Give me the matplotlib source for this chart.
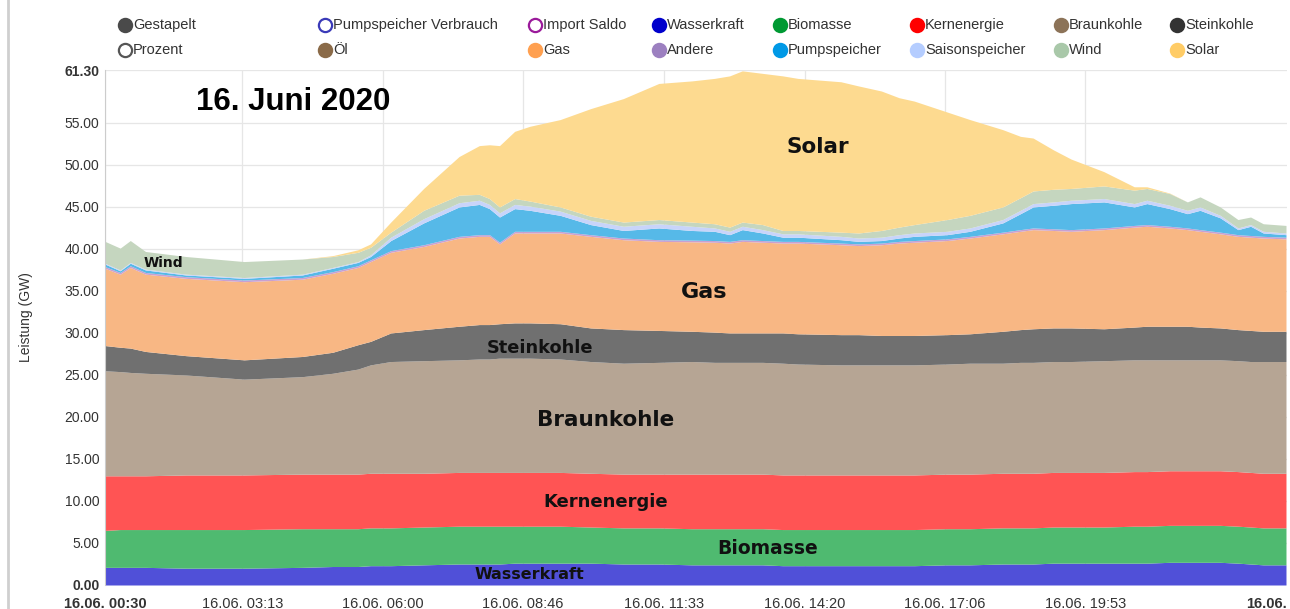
import numpy as np
import matplotlib.pyplot as plt
from matplotlib.lines import Line2D

# hours of the day (16.06.2020)
hours = [0.5, 0.8, 1.0, 1.3, 2.1, 3.25, 4.4, 5.0, 5.5, 5.75, 6.15, 6.8, 7.5, 7.9, 8.1, 8.3,
         8.6, 8.9, 9.5, 10.1, 10.75, 11.45, 12.1, 12.55, 12.85, 13.1, 13.5, 13.9, 14.2, 15.05,
         15.4, 15.85, 16.2, 16.5, 17.15, 17.6, 18.25, 18.6, 18.85, 19.25, 19.6, 20.25, 20.85,
         21.1, 21.55, 21.9, 22.15, 22.55, 22.9, 23.15, 23.4, 23.85]

# generation per source in GW (stack order bottom -> top)
wasserkraft = [2.1, 2.1, 2.1, 2.1, 2.0, 2.0, 2.1, 2.2, 2.2, 2.3, 2.3, 2.4, 2.5, 2.5, 2.5, 2.5,
               2.6, 2.6, 2.6, 2.6, 2.5, 2.5, 2.4, 2.4, 2.4, 2.4, 2.4, 2.3, 2.3, 2.3,
               2.3, 2.3, 2.3, 2.3, 2.4, 2.4, 2.5, 2.5, 2.5, 2.6, 2.6, 2.6, 2.6,
               2.6, 2.7, 2.7, 2.7, 2.7, 2.6, 2.5, 2.4, 2.4]
biomasse = [4.4, 4.5, 4.5, 4.5, 4.6, 4.6, 4.6, 4.5, 4.5, 4.5, 4.5, 4.5, 4.5, 4.5, 4.5, 4.5,
            4.4, 4.4, 4.4, 4.3, 4.3, 4.3, 4.3, 4.3, 4.3, 4.3, 4.3, 4.3, 4.3, 4.3,
            4.3, 4.3, 4.3, 4.3, 4.3, 4.3, 4.3, 4.3, 4.3, 4.3, 4.3, 4.3, 4.4,
            4.4, 4.4, 4.4, 4.4, 4.4, 4.4, 4.4, 4.4, 4.4]
kernenergie = [6.5, 6.4, 6.4, 6.4, 6.5, 6.5, 6.5, 6.5, 6.5, 6.5, 6.5, 6.4, 6.4, 6.4, 6.4, 6.4,
               6.4, 6.4, 6.4, 6.4, 6.4, 6.4, 6.5, 6.5, 6.5, 6.5, 6.5, 6.5, 6.5, 6.5,
               6.5, 6.5, 6.5, 6.5, 6.5, 6.5, 6.5, 6.5, 6.5, 6.5, 6.5, 6.5, 6.5,
               6.5, 6.5, 6.5, 6.5, 6.5, 6.5, 6.5, 6.5, 6.5]
braunkohle = [12.5, 12.4, 12.3, 12.2, 11.9, 11.4, 11.6, 12.0, 12.5, 12.9, 13.3, 13.4, 13.4, 13.5, 13.5, 13.6,
              13.6, 13.6, 13.5, 13.3, 13.2, 13.3, 13.4, 13.3, 13.3, 13.3, 13.3, 13.3, 13.2, 13.1,
              13.1, 13.1, 13.1, 13.1, 13.1, 13.2, 13.1, 13.2, 13.2, 13.2, 13.2, 13.3, 13.3,
              13.3, 13.2, 13.2, 13.2, 13.2, 13.2, 13.2, 13.3, 13.3]
steinkohle = [3.0, 2.9, 2.9, 2.6, 2.3, 2.3, 2.4, 2.5, 2.9, 2.8, 3.4, 3.7, 4.0, 4.1, 4.1, 4.1,
              4.2, 4.2, 4.2, 4.0, 4.0, 3.8, 3.6, 3.6, 3.5, 3.5, 3.5, 3.6, 3.6, 3.6,
              3.6, 3.5, 3.5, 3.5, 3.5, 3.5, 3.8, 3.9, 4.0, 4.0, 4.0, 3.8, 3.9,
              4.0, 4.0, 4.0, 3.9, 3.8, 3.7, 3.7, 3.6, 3.6]
gas = [9.2, 8.7, 9.6, 9.2, 9.2, 9.3, 9.2, 9.4, 9.2, 9.5, 9.6, 9.9, 10.5, 10.5, 10.5, 9.5,
       10.7, 10.7, 10.8, 10.9, 10.7, 10.6, 10.65, 10.7, 10.7, 10.9, 10.8, 10.7, 10.8, 10.7,
       10.6, 10.8, 11.0, 11.1, 11.2, 11.4, 11.6, 11.7, 11.8, 11.6, 11.5, 11.8, 11.9,
       11.9, 11.7, 11.5, 11.4, 11.2, 11.1, 11.1, 11.1, 11.0]
andere = [0.2] * 52
pumpspeicher = [0.3, 0.2, 0.3, 0.3, 0.2, 0.2, 0.3, 0.4, 0.4, 0.4, 1.2, 2.6, 3.5, 3.6, 3.1, 3.0,
                2.7, 2.5, 1.9, 1.2, 0.9, 1.4, 1.15, 1.1, 0.8, 1.2, 0.9, 0.5, 0.5, 0.4,
                0.3, 0.3, 0.4, 0.5, 0.5, 0.6, 1.1, 1.9, 2.5, 2.8, 3.1, 3.1, 2.2,
                2.5, 2.1, 1.7, 2.3, 1.7, 0.6, 1.1, 0.4, 0.3]
saisonspeicher = [0.1, 0.1, 0.1, 0.1, 0.1, 0.1, 0.1, 0.1, 0.1, 0.2, 0.4, 0.5, 0.5, 0.5, 0.5, 0.5,
                  0.5, 0.5, 0.5, 0.5, 0.5, 0.5, 0.5, 0.4, 0.4, 0.4, 0.4, 0.4, 0.4, 0.4,
                  0.4, 0.4, 0.4, 0.4, 0.4, 0.4, 0.4, 0.4, 0.4, 0.4, 0.4, 0.4, 0.4,
                  0.4, 0.4, 0.4, 0.4, 0.3, 0.2, 0.2, 0.2, 0.2]
wind = [2.6, 2.6, 2.6, 2.1, 2.1, 1.9, 1.8, 1.3, 1.1, 0.9, 0.6, 1.0, 0.9, 0.7, 0.7, 0.7,
        0.7, 0.6, 0.5, 0.5, 0.5, 0.5, 0.5, 0.5, 0.5, 0.5, 0.6, 0.4, 0.4, 0.5,
        0.6, 0.8, 0.9, 1.0, 1.4, 1.5, 1.5, 1.5, 1.5, 1.5, 1.4, 1.5, 1.6,
        1.4, 1.4, 1.0, 1.2, 1.0, 1.0, 0.9, 0.9, 0.9]
solar = [0, 0, 0, 0, 0, 0, 0, 0.1, 0.3, 0.4, 1.2, 2.6, 4.6, 5.8, 6.4, 7.3,
         8.0, 8.9, 10.4, 12.8, 14.7, 16.2, 16.8, 17.3, 18.0, 18.0, 18.0, 18.4, 18.1, 17.9,
         17.5, 16.6, 15.4, 14.7, 12.8, 11.4, 9.2, 7.3, 6.3, 4.7, 3.5, 1.7, 0.4,
         0.2, 0.05, 0, 0, 0, 0, 0, 0, 0]

layers = [wasserkraft, biomasse, kernenergie, braunkohle, steinkohle, gas, andere,
          pumpspeicher, saisonspeicher, wind, solar]
fill_colors = ['#5050d8', '#4fba70', '#ff5454', '#b6a594', '#707070', '#f8b784', '#c9a0d0',
               '#56b9e8', '#c8d4fa', '#c5d6bf', '#fdda90']

tick_hours = [0.5, 3 + 13 / 60, 6.0, 8 + 46 / 60, 11 + 33 / 60, 14 + 20 / 60, 17 + 6 / 60, 19 + 53 / 60]
end_hour = 23.87
y_ticks = [0, 5, 10, 15, 20, 25, 30, 35, 40, 45, 50, 55, 61.3]

legend_row1 = [('Gestapelt', '#4a4a4a', True), ('Pumpspeicher Verbrauch', '#3a3ab8', False),
               ('Import Saldo', '#9a1a9a', False), ('Wasserkraft', '#0000cc', True),
               ('Biomasse', '#009933', True), ('Kernenergie', '#ff0000', True),
               ('Braunkohle', '#8c7358', True), ('Steinkohle', '#333333', True)]
legend_row2 = [('Prozent', '#555555', False), ('Öl', '#8a6a48', True), ('Gas', '#ffa050', True),
               ('Andere', '#9c80c0', True), ('Pumpspeicher', '#0099e6', True),
               ('Saisonspeicher', '#b5cdff', True), ('Wind', '#a9c8a9', True), ('Solar', '#ffcc66', True)]
legend_x = [125, 325, 535, 659, 780, 917, 1061, 1177]

W, H = 1290, 609
fig = plt.figure(figsize=(W / 100, H / 100), dpi=100)
ax = fig.add_axes([105 / W, 1 - 585 / H, (1287 - 105) / W, (585 - 70) / H])

x = np.array(hours)
base = np.zeros(len(x))
for vals, col in zip(layers, fill_colors):
    top = base + np.array(vals)
    ax.fill_between(x, base, top, color=col, lw=0)
    base = top

ax.set_xlim(0.5, end_hour)
ax.set_ylim(0, 61.3)

ax.set_yticks(y_ticks)
ax.set_yticklabels(['%.2f' % v for v in y_ticks], fontsize=10, color='#333333',
                   family='Liberation Sans')
for lbl in ax.get_yticklabels():
    if lbl.get_text() in ('0.00', '61.30'):
        lbl.set_fontweight('bold')

ax.set_xticks(tick_hours + [end_hour])
xlabels = ['16.06. %02d:%02d' % (int(h), round((h - int(h)) * 60)) for h in tick_hours] + ['16.06.']
ax.set_xticklabels(xlabels, fontsize=10.5, color='#333333', family='Liberation Sans')
xl = ax.get_xticklabels()
xl[0].set_fontweight('bold')
xl[-1].set_fontweight('bold')
xl[-1].set_horizontalalignment('right')

ax.tick_params(axis='x', length=0, pad=9)
ax.tick_params(axis='y', length=0, pad=4)
ax.grid(True, color='#e6e6e6', lw=0.9)
ax.xaxis.get_gridlines()[-1].set_visible(False)
ax.set_axisbelow(True)
for s in ['top', 'right', 'bottom']:
    ax.spines[s].set_visible(False)
ax.spines['left'].set_color('#cccccc')

ax.set_ylabel('Leistung (GW)', fontsize=10, color='#333333', family='Liberation Sans')
ax.yaxis.set_label_coords(-0.0605, 0.52)

# annotations inside the chart
ax.text(2.3, 57.5, '16. Juni 2020', fontsize=22.5, fontweight='bold', ha='left', va='center',
        family='Liberation Sans')
lab = dict(fontweight='bold', ha='center', va='center', family='DejaVu Sans', color='#111111')
ax.text(14.6, 52.1, 'Solar', fontsize=15.5, **lab)
ax.text(12.35, 34.9, 'Gas', fontsize=16, **lab)
ax.text(9.1, 28.2, 'Steinkohle', fontsize=12.8, **lab)
ax.text(10.4, 19.6, 'Braunkohle', fontsize=15.5, **lab)
ax.text(10.4, 9.9, 'Kernenergie', fontsize=13, **lab)
ax.text(13.6, 4.4, 'Biomasse', fontsize=13.5, **lab)
ax.text(8.9, 1.3, 'Wasserkraft', fontsize=11.5, **lab)
ax.text(1.65, 38.3, 'Wind', fontsize=10, **lab)

# legend drawn in figure pixels
for row, ypix in ((legend_row1, 25), (legend_row2, 50)):
    for (name, col, filled), xpix in zip(row, legend_x):
        fy = 1 - ypix / H
        fig.add_artist(Line2D([xpix / W], [fy], marker='o', markersize=9.5,
                              markerfacecolor=col if filled else 'white',
                              markeredgecolor=col, markeredgewidth=1.6, transform=fig.transFigure))
        fig.text((xpix + 8) / W, fy, name, fontsize=10.5, va='center', ha='left',
                 color='#333333', family='Liberation Sans')

# page border on the left
fig.add_artist(Line2D([8 / W, 8 / W], [0, 1], color='#cfcfcf', lw=2, transform=fig.transFigure))

fig.savefig('out.png', dpi=100)
